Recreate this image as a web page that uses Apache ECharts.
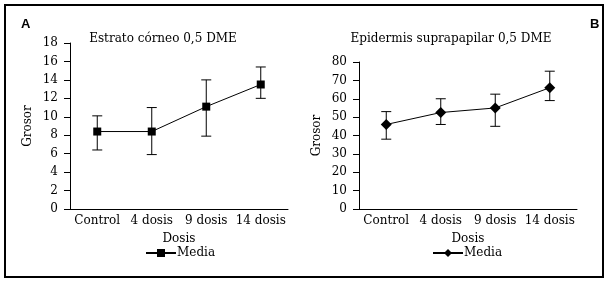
<!DOCTYPE html>
<html>
<head>
<meta charset="utf-8">
<script src="https://cdn.jsdelivr.net/npm/echarts@6/dist/echarts.min.js"></script>
<style>
  html, body { margin: 0; padding: 0; background: #fff; }
  #chart { width: 610px; height: 284px; }
</style>
</head>
<body>
<div id="chart"></div>
<script>
// categorías y valores
var categories = ["Control", "4 dosis", "9 dosis", "14 dosis"];

// A: Estrato córneo 0,5 DME
var meanA = [8.4, 8.4, 11.1, 13.5];
var lowA = [6.4, 5.9, 7.9, 12.0];
var highA = [10.1, 11.0, 14.0, 15.4];

// B: Epidermis suprapapilar 0,5 DME
var meanB = [46, 52.5, 55, 66];
var lowB = [38, 46, 45, 59];
var highB = [53, 60, 62.5, 75];

var font = "DejaVu Serif";

function errorData(low, high) {
  return low.map(function (l, i) { return [i, l, high[i]]; });
}

// barras de error
function renderError(params, api) {
  var top = api.coord([api.value(0), api.value(2)]);
  var bot = api.coord([api.value(0), api.value(1)]);
  var w = 5;
  var style = { stroke: "#000", lineWidth: 1 };
  return {
    type: "group",
    children: [
      { type: "line", shape: { x1: top[0], y1: top[1], x2: bot[0], y2: bot[1] }, style: style },
      { type: "line", shape: { x1: top[0] - w, y1: top[1], x2: top[0] + w, y2: top[1] }, style: style },
      { type: "line", shape: { x1: bot[0] - w, y1: bot[1], x2: bot[0] + w, y2: bot[1] }, style: style }
    ]
  };
}

function xAxis(gridIndex) {
  return {
    type: "category",
    gridIndex: gridIndex,
    data: categories,
    name: "Dosis",
    nameLocation: "middle",
    nameGap: 24,
    nameTextStyle: { fontFamily: font, fontSize: 12, color: "#000" },
    axisLine: { lineStyle: { color: "#000", width: 1 } },
    axisTick: { show: false },
    axisLabel: { fontFamily: font, fontSize: 12, color: "#000", margin: 6, interval: 0 },
    splitLine: { show: false }
  };
}

function yAxis(gridIndex, max, interval) {
  return {
    type: "value",
    gridIndex: gridIndex,
    min: 0,
    max: max,
    interval: interval,
    name: "Grosor",
    nameLocation: "middle",
    nameGap: 36,
    nameTextStyle: { fontFamily: font, fontSize: 12, color: "#000" },
    axisLine: { show: true, lineStyle: { color: "#000", width: 1 } },
    axisTick: { show: true, length: 6, lineStyle: { color: "#000" } },
    axisLabel: { fontFamily: font, fontSize: 12, color: "#000", margin: 12 },
    splitLine: { show: false }
  };
}

var chart = echarts.init(document.getElementById("chart"));
chart.setOption({
  animation: false,
  backgroundColor: "#fff",
  title: [
    { text: "Estrato córneo 0,5 DME", left: 158, top: 28, textAlign: "center",
      textStyle: { fontFamily: font, fontSize: 12, fontWeight: "normal", color: "#000" } },
    { text: "Epidermis suprapapilar 0,5 DME", left: 446, top: 28, textAlign: "center",
      textStyle: { fontFamily: font, fontSize: 12, fontWeight: "normal", color: "#000" } },
    { text: "A", left: 16, top: 13,
      textStyle: { fontFamily: "Liberation Sans", fontSize: 13, fontWeight: "bold", color: "#000" } },
    { text: "B", left: 585, top: 13,
      textStyle: { fontFamily: "Liberation Sans", fontSize: 13, fontWeight: "bold", color: "#000" } }
  ],
  graphic: [
    { type: "rect", shape: { x: 5, y: 5, width: 598, height: 272 },
      style: { fill: "none", stroke: "#000", lineWidth: 2 } }
  ],
  grid: [
    { left: 70, top: 43, width: 218, height: 166 },
    { left: 359, top: 62, width: 218, height: 147 }
  ],
  legend: [
    { data: ["MediaA"], left: 140, top: 242, itemWidth: 30, itemHeight: 10, itemGap: 4,
      formatter: function () { return "Media"; },
      textStyle: { fontFamily: font, fontSize: 12, color: "#000", padding: [0, 0, 0, -4] } },
    { data: ["MediaB"], left: 427, top: 242, itemWidth: 30, itemHeight: 10, itemGap: 4,
      formatter: function () { return "Media"; },
      textStyle: { fontFamily: font, fontSize: 12, color: "#000", padding: [0, 0, 0, -4] } }
  ],
  xAxis: [xAxis(0), xAxis(1)],
  yAxis: [yAxis(0, 18, 2), yAxis(1, 80, 10)],
  series: [
    { name: "errA", type: "custom", xAxisIndex: 0, yAxisIndex: 0,
      renderItem: renderError, data: errorData(lowA, highA), z: 1 },
    { name: "MediaA", type: "line", xAxisIndex: 0, yAxisIndex: 0, data: meanA,
      symbol: "rect", symbolSize: 8, showAllSymbol: true,
      lineStyle: { color: "#000", width: 1 }, itemStyle: { color: "#000" }, z: 2 },
    { name: "errB", type: "custom", xAxisIndex: 1, yAxisIndex: 1,
      renderItem: renderError, data: errorData(lowB, highB), z: 1 },
    { name: "MediaB", type: "line", xAxisIndex: 1, yAxisIndex: 1, data: meanB,
      symbol: "diamond", symbolSize: 11, showAllSymbol: true,
      lineStyle: { color: "#000", width: 1 }, itemStyle: { color: "#000" }, z: 2 }
  ]
});
</script>
</body>
</html>
